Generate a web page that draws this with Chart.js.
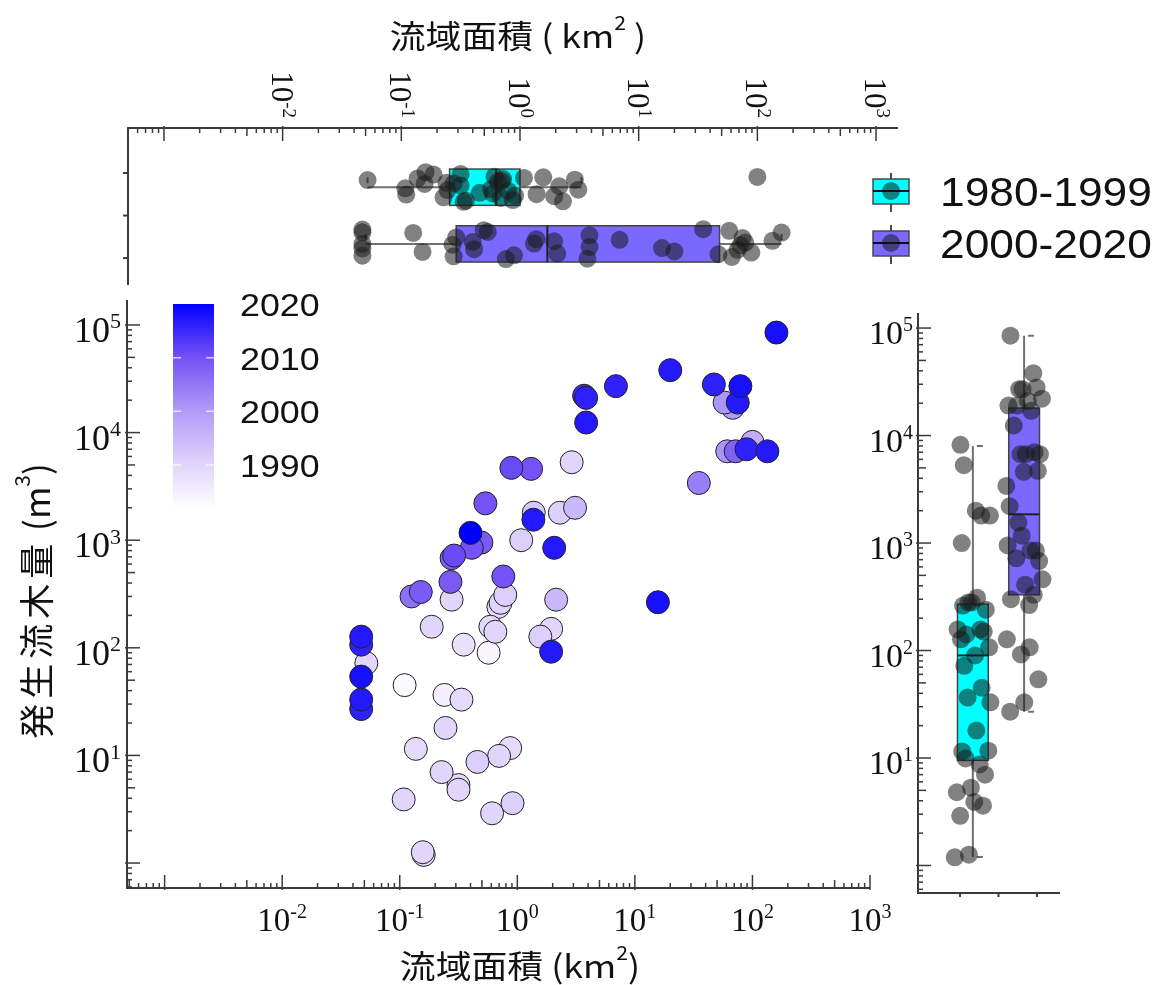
<!DOCTYPE html>
<html>
<head>
<meta charset="utf-8">
<script src="https://cdn.jsdelivr.net/npm/chart.js@4.4.0/dist/chart.umd.min.js"></script>
<style>
  html, body { margin: 0; padding: 0; background: #fff; }
  #wrap { position: relative; width: 1161px; height: 985px; }
  #wrap canvas { position: absolute; left: 0; top: 0; }
</style>
</head>
<body>
<div id="wrap">
  <canvas id="mainChart" width="1161" height="985"></canvas>
  <canvas id="topChart" width="1161" height="985"></canvas>
  <canvas id="rightChart" width="1161" height="985"></canvas>
</div>
<script>
// ---- data ----
// catchment area (km2), driftwood volume (m3), year of event
const area = [160, 20, 6.9, 3.7, 3.85, 3.85, 47, 79, 58, 68, 75, 61, 72, 100, 89, 134, 35, 15.7,
  2.9, 0.89, 1.31, 0.535, 1.38, 1.37, 2.3, 3.1, 1.08, 2.06, 0.4, 0.495, 0.41, 0.29, 0.276, 0.27,
  0.126, 0.151, 0.276, 0.76, 0.79, 0.72, 0.69, 2.14, 0.187, 0.59, 0.65, 0.35, 0.57, 1.57, 1.94, 1.94,
  0.047, 0.047, 0.052, 0.047, 0.047, 0.047, 0.11, 0.24, 0.335, 0.245, 0.137, 0.227, 0.316, 0.316,
  0.458, 0.70, 0.87, 0.108, 0.61, 0.91, 0.157, 0.16];
const volume = [85000, 38000, 27000, 22000, 21000, 12400, 28000, 27000, 19000, 17000, 19000, 6700, 6700, 8200, 7000, 6700, 3400, 265,
  5300, 4700, 4600, 2200, 1800, 1550, 1800, 2000, 1000, 850, 1170, 950, 850, 720, 680, 410,
  300, 330, 280, 460, 310, 262, 240, 280, 157, 157, 141, 107, 90, 127, 150, 92,
  127, 107, 72, 54, 33, 27, 45, 36.5, 33, 18, 11.5, 7.0, 5.3, 4.8,
  8.7, 9.9, 11.7, 3.9, 2.9, 3.6, 1.26, 1.19];
const year = [2018, 2017, 2016, 2015, 2016, 2017, 2016, 2018, 2001, 2000, 2017, 2001, 2008, 1997, 2016, 2017, 2004, 2018,
  1990, 2011, 2010, 2010, 1992, 2017, 1991, 1995, 1991, 2017, 2020, 2009, 2010, 2011, 2008, 2009,
  2006, 2009, 1990, 2010, 1991, 1990, 1989, 1995, 1990, 1989, 1990, 1988, 1984, 1991, 1990, 2017,
  2017, 2016, 1990, 2018, 2017, 2016, 1983, 1985, 1989, 1990, 1989, 1990, 1989, 1990,
  1991, 1990, 1989, 1990, 1990, 1991, 1990, 1989];

const periods = ['1980-1999', '2000-2020'];
const periodColors = ['#00ffff', '#7b68ff'];
// box plot stats: [whisker low, Q1, median, Q3, whisker high]
const areaStats = [[0.052, 0.255, 0.63, 1.0, 3.3], [0.05, 0.29, 1.7, 48, 160]];
const volumeStats = [[1.2, 9.5, 90, 270, 8000], [27, 330, 1850, 18000, 85000]];

const xTickExp = [-2, -1, 0, 1, 2, 3];
const yTickExp = [1, 2, 3, 4, 5];
const boxAxisTicks = [0.75, 1.5, 2.25];
const cbarYears = [1990, 2000, 2010, 2020];
// colour map (year -> fill)
const cmapYears = [1982, 1990, 2000, 2010, 2020];
const cmapRGB = [[255, 255, 255], [225, 213, 251], [176, 156, 248], [116, 82, 245], [0, 0, 255]];

// ---- helpers ----
const SX = 1.12;
const SERIF = '"Liberation Serif", "Times New Roman", serif';
const SANS = '"Liberation Sans", Arial, sans-serif';
const CJK = '"Noto Sans CJK JP", "Noto Sans CJK SC", sans-serif';
const AXIS = '#3a3a3a';

function yearColor(yr) {
  let k = 0;
  while (k < cmapYears.length - 2 && yr > cmapYears[k + 1]) k++;
  const t = Math.max(0, Math.min(1, (yr - cmapYears[k]) / (cmapYears[k + 1] - cmapYears[k])));
  const a = cmapRGB[k], b = cmapRGB[k + 1];
  return 'rgb(' + a.map((c, j) => Math.round(c + (b[j] - c) * t)).join(',') + ')';
}
const periodOf = i => (year[i] < 2000 ? 0 : 1);
// fixed spread pattern for the strip points
const jit = i => ((i * 0.6180339887 + 0.13) % 1) * 2 - 1;

function logTicks(scale) {
  const out = [];
  const lo = Math.log10(scale.min), hi = Math.log10(scale.max);
  for (let e = Math.floor(lo); e <= Math.ceil(hi); e++) {
    for (let m = 1; m < 10; m++) {
      const v = m * Math.pow(10, e), l = Math.log10(v);
      if (l >= lo - 1e-9 && l <= hi + 1e-9) out.push({ v: v, m: m, e: e });
    }
  }
  return out;
}
const tickLen = m => (m === 1 ? 13 : (m === 5 ? 8 : 5));

function hAxis(ctx, chart, scale, y, dir) {
  const a = chart.chartArea;
  ctx.save();
  ctx.strokeStyle = AXIS; ctx.lineWidth = 2;
  ctx.beginPath(); ctx.moveTo(a.left - 1, y); ctx.lineTo(a.right, y); ctx.stroke();
  ctx.lineWidth = 1.5;
  logTicks(scale).forEach(t => {
    const px = scale.getPixelForValue(t.v);
    ctx.beginPath();
    ctx.moveTo(px, y - dir * (t.m === 1 ? 2 : 0));
    ctx.lineTo(px, y + dir * tickLen(t.m));
    ctx.stroke();
  });
  ctx.restore();
}
function vAxis(ctx, chart, scale, x, dir) {
  const a = chart.chartArea;
  ctx.save();
  ctx.strokeStyle = AXIS; ctx.lineWidth = 2;
  ctx.beginPath(); ctx.moveTo(x, a.top); ctx.lineTo(x, a.bottom + 1); ctx.stroke();
  ctx.lineWidth = 1.5;
  logTicks(scale).forEach(t => {
    const py = scale.getPixelForValue(t.v);
    ctx.beginPath();
    ctx.moveTo(x - dir * (t.m === 1 ? 2 : 0), py);
    ctx.lineTo(x + dir * tickLen(t.m), py);
    ctx.stroke();
  });
  ctx.restore();
}

// "10" with a raised exponent; (x, y) is the anchor, dy the baseline offset
function drawPow(ctx, e, x, y, F, align, rot, dy) {
  const base = '10', ex = e < 0 ? '-' + (-e) : String(e);
  const fb = F + 'px ' + SERIF, fe = Math.round(F * 0.6) + 'px ' + SERIF;
  ctx.save();
  ctx.font = fb; const wb = ctx.measureText(base).width;
  ctx.font = fe; const we = ctx.measureText(ex).width;
  const w = wb + we;
  ctx.translate(x, y);
  if (rot) ctx.rotate(rot);
  const x0 = align === 'center' ? -w / 2 : (align === 'right' ? -w : 0);
  const b = dy || 0;
  ctx.fillStyle = '#111'; ctx.textAlign = 'left'; ctx.textBaseline = 'alphabetic';
  ctx.font = fb; ctx.fillText(base, x0, b);
  ctx.font = fe; ctx.fillText(ex, x0 + wb, b - F * 0.38);
  ctx.restore();
}

// title with a superscript digit, centred on (cx, cy); gap = extra space between CJK chars
function drawTitle(ctx, main, sup, tail, cx, cy, F, rot, sx, gap) {
  const fm = F + 'px ' + CJK, fs = Math.round(F * 0.6) + 'px ' + CJK;
  const chars = Array.from(main);
  ctx.save();
  ctx.font = fm;
  const cw = chars.map(c => ctx.measureText(c).width + (/[\u3000-\u9fff]/.test(c) ? (gap || 0) : 0));
  const w1 = cw.reduce((s, v) => s + v, 0), w3 = ctx.measureText(tail).width;
  ctx.font = fs; const w2 = ctx.measureText(sup).width;
  const w = w1 + w2 + w3;
  ctx.translate(cx, cy);
  if (sx) ctx.scale(sx, 1);
  if (rot) ctx.rotate(rot);
  ctx.fillStyle = '#111'; ctx.textAlign = 'left'; ctx.textBaseline = 'middle';
  let x0 = -w / 2;
  ctx.font = fm;
  chars.forEach((c, k) => { ctx.fillText(c, x0, 0); x0 += cw[k]; });
  ctx.font = fs; ctx.fillText(sup, x0, -F * 0.42);
  ctx.font = fm; ctx.fillText(tail, x0 + w2, 0);
  ctx.restore();
}

function drawBoxSymbol(ctx, cx, cy, fill) {
  ctx.save();
  ctx.strokeStyle = '#4a4a4a'; ctx.lineWidth = 2;
  ctx.beginPath(); ctx.moveTo(cx, cy - 18); ctx.lineTo(cx, cy + 21); ctx.stroke();
  ctx.fillStyle = fill; ctx.fillRect(cx - 18, cy - 12, 36, 25);
  ctx.lineWidth = 1.5; ctx.strokeRect(cx - 18, cy - 12, 36, 25);
  ctx.fillStyle = 'rgba(25,25,25,0.55)';
  ctx.beginPath(); ctx.arc(cx, cy, 9, 0, Math.PI * 2); ctx.fill();
  ctx.strokeStyle = '#111'; ctx.lineWidth = 2;
  ctx.beginPath(); ctx.moveTo(cx - 18, cy); ctx.lineTo(cx + 18, cy); ctx.stroke();
  ctx.restore();
}

// ---- main scatter ----
const order = year.map((y, i) => i).sort((a, b) => year[a] - year[b] || a - b);

const mainDecor = {
  id: 'mainDecor',
  beforeDatasetsDraw(chart) {
    const ctx = chart.ctx, a = chart.chartArea;
    hAxis(ctx, chart, chart.scales.x, a.bottom, -1);
    vAxis(ctx, chart, chart.scales.y, a.left, 1);
  },
  afterDraw(chart) {
    const ctx = chart.ctx, a = chart.chartArea;
    const xs = chart.scales.x, ys = chart.scales.y;
    xTickExp.forEach(e => drawPow(ctx, e, xs.getPixelForValue(Math.pow(10, e)), a.bottom + 43, 33, 'center'));
    yTickExp.forEach(e => drawPow(ctx, e, a.left - 6, ys.getPixelForValue(Math.pow(10, e)) + 17, 36, 'right'));
    drawTitle(ctx, '流域面積 (km', '2', ')', 520, 966, 32, 0, SX);
    drawTitle(ctx, '流域面積 ( km', '2', ' )', 518, 36, 32, 0, SX);
    drawTitle(ctx, '発生流木量 (m', '3', ')', 37, 601, 35, -Math.PI / 2, 0, 5);

    // colour bar
    const cbTop = 304, cbBot = 508, cbL = 173, cbR = 214;
    const yPix = yr => cbTop + (2020 - yr) * (cbBot - cbTop) / (2020 - 1982);
    const grad = ctx.createLinearGradient(0, cbTop, 0, cbBot);
    cmapYears.forEach(yr => grad.addColorStop((yPix(yr) - cbTop) / (cbBot - cbTop), yearColor(yr)));
    ctx.fillStyle = grad;
    ctx.fillRect(cbL, cbTop, cbR - cbL, cbBot - cbTop);
    ctx.save();
    ctx.strokeStyle = 'rgba(255,255,255,0.7)'; ctx.lineWidth = 1.5;
    cbarYears.forEach(yr => {
      const py = yPix(yr);
      if (yr < 2020) {
        ctx.beginPath(); ctx.moveTo(cbL, py); ctx.lineTo(cbL + 8, py);
        ctx.moveTo(cbR - 8, py); ctx.lineTo(cbR, py); ctx.stroke();
      }
      ctx.save();
      ctx.translate(240, py + 12); ctx.scale(SX, 1);
      ctx.fillStyle = '#111'; ctx.font = '32px ' + SANS; ctx.textBaseline = 'alphabetic';
      ctx.fillText(String(yr), 0, 0);
      ctx.restore();
    });
    ctx.restore();

    // legend of the box plots
    [191, 243].forEach((cy, g) => {
      drawBoxSymbol(ctx, 891, cy, periodColors[g]);
      ctx.save();
      ctx.translate(940, cy + 15); ctx.scale(1.08, 1);
      ctx.fillStyle = '#111'; ctx.font = '41px ' + SANS;
      ctx.fillText(periods[g], 0, 0);
      ctx.restore();
    });
  }
};

new Chart(document.getElementById('mainChart'), {
  type: 'scatter',
  data: {
    datasets: [{
      data: order.map(i => ({ x: area[i], y: volume[i] })),
      pointRadius: 11.5,
      pointBackgroundColor: order.map(i => yearColor(year[i])),
      pointBorderColor: '#222',
      pointBorderWidth: 1,
      clip: false
    }]
  },
  options: {
    responsive: false, animation: false, events: [],
    layout: { padding: { left: 127, top: 300, right: 1161 - 870, bottom: 985 - 888 } },
    scales: {
      x: { type: 'logarithmic', min: Math.pow(10, -3.32), max: 1000, bounds: 'data', display: false },
      y: { type: 'logarithmic', min: Math.pow(10, -0.232), max: Math.pow(10, 5.232), bounds: 'data', display: false }
    },
    plugins: { legend: { display: false }, tooltip: { enabled: false } }
  },
  plugins: [mainDecor]
});

// ---- box plot above (catchment area) ----
const topBoxes = {
  id: 'topBoxes',
  beforeDatasetsDraw(chart) {
    const ctx = chart.ctx, a = chart.chartArea;
    const xs = chart.scales.x, ys = chart.scales.y;
    hAxis(ctx, chart, xs, a.top, 1);
    ctx.save();
    ctx.strokeStyle = AXIS; ctx.lineWidth = 2;
    ctx.beginPath(); ctx.moveTo(a.left, a.top); ctx.lineTo(a.left, a.bottom); ctx.stroke();
    boxAxisTicks.forEach(t => {
      const py = ys.getPixelForValue(t);
      ctx.beginPath(); ctx.moveTo(a.left, py); ctx.lineTo(a.left - 5, py); ctx.stroke();
    });
    ctx.restore();
    // tick labels turned a quarter clockwise, ending just above the axis
    xTickExp.forEach(e => drawPow(ctx, e, xs.getPixelForValue(Math.pow(10, e)), a.top - 10, 31, 'right', Math.PI / 2, 11));

    areaStats.forEach((s, g) => {
      const yc = ys.getPixelForValue(g + 1);
      const h = Math.abs(ys.getPixelForValue(g + 1.32) - yc);
      const p = s.map(v => xs.getPixelForValue(v));
      ctx.save();
      ctx.strokeStyle = '#707070'; ctx.lineWidth = 2;
      ctx.beginPath();
      ctx.moveTo(p[0], yc); ctx.lineTo(p[1], yc);
      ctx.moveTo(p[3], yc); ctx.lineTo(p[4], yc);
      ctx.moveTo(p[0], yc - 4); ctx.lineTo(p[0], yc - 10);
      ctx.moveTo(p[4], yc - 4); ctx.lineTo(p[4], yc - 10);
      ctx.stroke();
      ctx.fillStyle = periodColors[g];
      ctx.fillRect(p[1], yc - h, p[3] - p[1], 2 * h);
      ctx.strokeStyle = '#444'; ctx.lineWidth = 1.5;
      ctx.strokeRect(p[1], yc - h, p[3] - p[1], 2 * h);
      ctx.strokeStyle = '#222'; ctx.lineWidth = 2;
      ctx.beginPath(); ctx.moveTo(p[2], yc - h); ctx.lineTo(p[2], yc + h); ctx.stroke();
      ctx.restore();
    });
  }
};

new Chart(document.getElementById('topChart'), {
  type: 'scatter',
  data: {
    datasets: [{
      data: area.map((v, i) => ({ x: v, y: periodOf(i) + 1 + jit(i) * 0.27 })),
      pointRadius: 9,
      pointBackgroundColor: 'rgba(25,25,25,0.55)',
      pointBorderWidth: 0,
      clip: false
    }]
  },
  options: {
    responsive: false, animation: false, events: [],
    layout: { padding: { left: 128, top: 128, right: 1161 - 898, bottom: 985 - 285 } },
    scales: {
      x: { type: 'logarithmic', min: Math.pow(10, -3.303), max: Math.pow(10, 3.185), bounds: 'data', display: false },
      y: { type: 'linear', min: -0.044, max: 2.725, reverse: true, bounds: 'data', display: false }
    },
    plugins: { legend: { display: false }, tooltip: { enabled: false } }
  },
  plugins: [topBoxes]
});

// ---- box plot at right (driftwood volume) ----
const rightBoxes = {
  id: 'rightBoxes',
  beforeDatasetsDraw(chart) {
    const ctx = chart.ctx, a = chart.chartArea;
    const xs = chart.scales.x, ys = chart.scales.y;
    vAxis(ctx, chart, ys, a.left, 1);
    ctx.save();
    ctx.strokeStyle = AXIS; ctx.lineWidth = 2;
    ctx.beginPath(); ctx.moveTo(a.left, a.bottom); ctx.lineTo(a.right, a.bottom); ctx.stroke();
    boxAxisTicks.forEach(t => {
      const px = xs.getPixelForValue(t);
      ctx.beginPath(); ctx.moveTo(px, a.bottom); ctx.lineTo(px, a.bottom + 4); ctx.stroke();
    });
    ctx.restore();
    yTickExp.forEach(e => drawPow(ctx, e, a.left - 5, ys.getPixelForValue(Math.pow(10, e)) + 16, 34, 'right'));

    volumeStats.forEach((s, g) => {
      const xc = xs.getPixelForValue(g + 1);
      const w = Math.abs(xs.getPixelForValue(g + 1.3) - xc);
      const p = s.map(v => ys.getPixelForValue(v));
      ctx.save();
      ctx.strokeStyle = '#707070'; ctx.lineWidth = 2;
      ctx.beginPath();
      ctx.moveTo(xc, p[0]); ctx.lineTo(xc, p[1]);
      ctx.moveTo(xc, p[3]); ctx.lineTo(xc, p[4]);
      ctx.moveTo(xc + 4, p[0]); ctx.lineTo(xc + 10, p[0]);
      ctx.moveTo(xc + 4, p[4]); ctx.lineTo(xc + 10, p[4]);
      ctx.stroke();
      ctx.fillStyle = periodColors[g];
      ctx.fillRect(xc - w, p[3], 2 * w, p[1] - p[3]);
      ctx.strokeStyle = '#444'; ctx.lineWidth = 1.5;
      ctx.strokeRect(xc - w, p[3], 2 * w, p[1] - p[3]);
      ctx.strokeStyle = '#222'; ctx.lineWidth = 2;
      ctx.beginPath(); ctx.moveTo(xc - w, p[2]); ctx.lineTo(xc + w, p[2]); ctx.stroke();
      ctx.restore();
    });
  }
};

new Chart(document.getElementById('rightChart'), {
  type: 'scatter',
  data: {
    datasets: [{
      data: volume.map((v, i) => ({ x: periodOf(i) + 1 + jit(i) * 0.36, y: v })),
      pointRadius: 9,
      pointBackgroundColor: 'rgba(25,25,25,0.55)',
      pointBorderWidth: 0,
      clip: false
    }]
  },
  options: {
    responsive: false, animation: false, events: [],
    layout: { padding: { left: 918, top: 313, right: 1161 - 1060, bottom: 985 - 893 } },
    scales: {
      x: { type: 'linear', min: -0.07, max: 2.7, bounds: 'data', display: false },
      y: { type: 'logarithmic', min: Math.pow(10, -0.256), max: Math.pow(10, 5.14), bounds: 'data', display: false }
    },
    plugins: { legend: { display: false }, tooltip: { enabled: false } }
  },
  plugins: [rightBoxes]
});
</script>
</body>
</html>
